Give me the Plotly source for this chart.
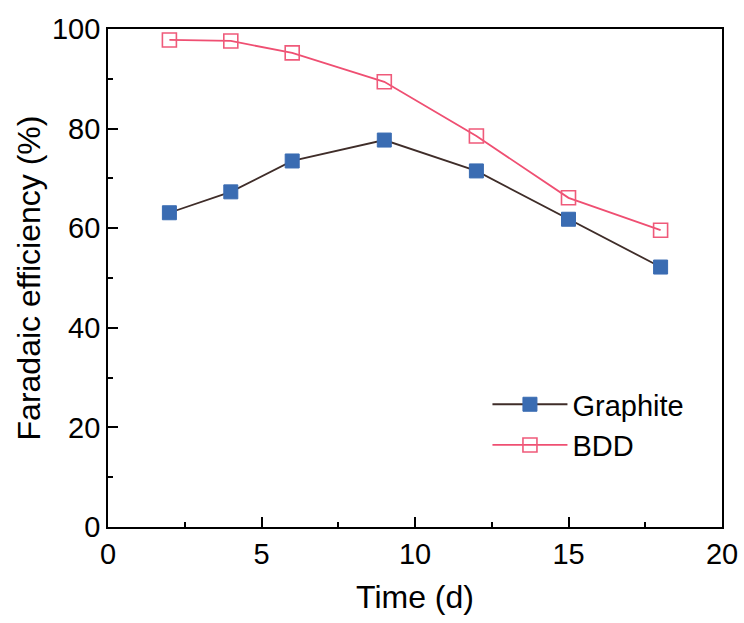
import plotly.graph_objects as go

days = [2, 4, 6, 9, 12, 15, 18]
graphite_fe = [63.1, 67.3, 73.5, 77.7, 71.5, 61.8, 52.2]
bdd_fe = [97.8, 97.6, 95.2, 89.4, 78.5, 66.1, 59.6]

x_ticks = [0, 5, 10, 15, 20]
y_ticks = [0, 20, 40, 60, 80, 100]

FONT = "Liberation Sans, Arial, sans-serif"

fig = go.Figure()
fig.add_trace(go.Scatter(
    x=days, y=graphite_fe, name="Graphite", mode="lines+markers",
    line=dict(color="#3f2d29", width=1.8),
    marker=dict(symbol="square", size=14, color="#3a6cb2",
                line=dict(color="#3a6cb2", width=1)),
))
fig.add_trace(go.Scatter(
    x=days, y=bdd_fe, name="BDD", mode="lines+markers",
    line=dict(color="#ef4f72", width=1.8),
    marker=dict(symbol="square-open", size=14, color="#ef5a7a",
                line=dict(width=1.6)),
))

axis_common = dict(
    showline=True, linecolor="black", linewidth=1.8, mirror=True,
    ticks="inside", ticklen=10, tickwidth=1.8, tickcolor="black",
    showgrid=False, zeroline=False, automargin=False,
    tickfont=dict(family=FONT, size=29, color="black"),
    title_font=dict(family=FONT, size=32, color="black"),
)

fig.update_xaxes(
    range=[0, 20], tickvals=x_ticks, title_text="Time (d)",
    minor=dict(ticks="inside", ticklen=5, tickwidth=1.8, tickcolor="black", dtick=2.5),
    title_standoff=17,
    **axis_common,
)
fig.update_yaxes(
    range=[0, 100], tickvals=y_ticks, title_text="Faradaic efficiency (%)",
    minor=dict(ticks="inside", ticklen=5, tickwidth=1.8, tickcolor="black", dtick=10),
    title_standoff=2,
    **axis_common,
)

fig.update_layout(
    width=744, height=623,
    margin=dict(l=108, r=22, t=29, b=96),
    plot_bgcolor="white", paper_bgcolor="white",
    showlegend=True,
    legend=dict(
        x=0.618, y=0.205, xanchor="left", yanchor="middle",
        bgcolor="rgba(0,0,0,0)",
        font=dict(family=FONT, size=29, color="black"),
        itemwidth=75, tracegroupgap=0,
    ),
)

fig.write_html("out.html")
